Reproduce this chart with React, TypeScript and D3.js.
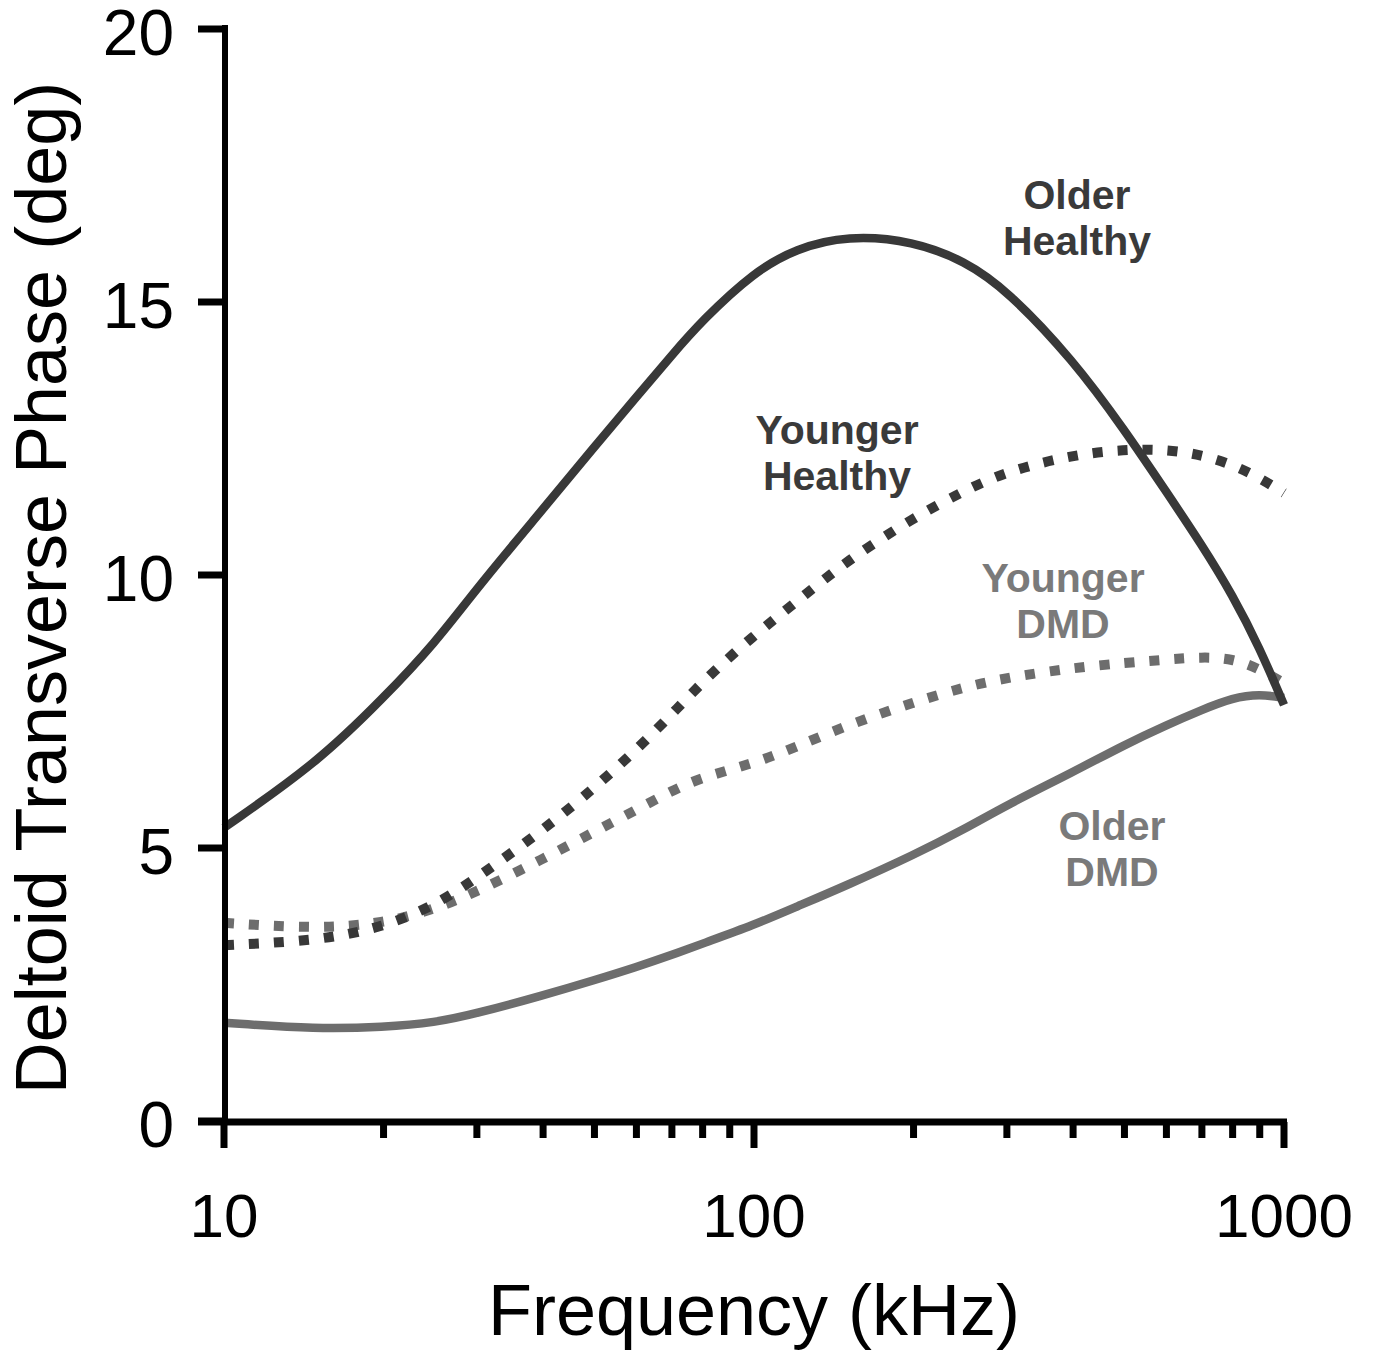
import React from "react";
import * as d3 from "d3";

const freqs = [10, 15, 20, 25, 30, 40, 50, 60, 70, 80, 100, 120, 150, 200, 250, 300, 400, 500, 600, 700, 800, 900, 1000];
const olderHealthy = [5.37, 6.56, 7.75, 8.75, 9.76, 11.21, 12.35, 13.26, 14.03, 14.67, 15.55, 15.98, 16.22, 16.12, 15.75, 15.22, 13.94, 12.66, 11.52, 10.55, 9.63, 8.66, 7.62];
const youngerHealthy = [3.22, 3.3, 3.55, 3.95, 4.45, 5.33, 6.1, 6.8, 7.45, 8.05, 8.9, 9.5, 10.27, 11.05, 11.55, 11.9, 12.2, 12.3, 12.3, 12.2, 12.02, 11.78, 11.5];
const youngerDMD = [3.63, 3.52, 3.62, 3.88, 4.2, 4.8, 5.3, 5.7, 6.05, 6.3, 6.55, 6.85, 7.25, 7.67, 7.95, 8.12, 8.3, 8.39, 8.45, 8.5, 8.47, 8.28, 8.02];
const olderDMD = [1.8, 1.68, 1.72, 1.8, 1.97, 2.3, 2.58, 2.82, 3.04, 3.25, 3.59, 3.92, 4.32, 4.87, 5.35, 5.79, 6.39, 6.89, 7.25, 7.53, 7.75, 7.82, 7.75];

const yTicks = [0, 5, 10, 15, 20];
const xMajor = [10, 100, 1000];
const xMinor = [20, 30, 40, 50, 60, 70, 80, 90, 200, 300, 400, 500, 600, 700, 800, 900];

const DARK = "#383838";
const GRAY = "#6d6d6d";
const FONT = "'Liberation Sans', Arial, Helvetica, sans-serif";

export default function App() {
  const x = d3.scaleLog().domain([10, 1000]).range([224, 1284]);
  const y = d3.scaleLinear().domain([0, 20]).range([1121, 29]);
  const line = d3
    .line<[number, number]>()
    .x((d) => x(d[0]))
    .y((d) => y(d[1]))
    .curve(d3.curveBasis);
  const mk = (vals: number[]) => line(freqs.map((f, i) => [f, vals[i]] as [number, number])) || "";

  const series = [
    { vals: olderDMD, color: GRAY, dash: null },
    { vals: youngerDMD, color: GRAY, dash: "10 15" },
    { vals: youngerHealthy, color: DARK, dash: "10 15" },
    { vals: olderHealthy, color: DARK, dash: null },
  ];

  const labels = [
    { lines: ["Older", "Healthy"], cx: 1077, y0: 209, color: "#3a3a3a" },
    { lines: ["Younger", "Healthy"], cx: 837, y0: 444, color: "#3a3a3a" },
    { lines: ["Younger", "DMD"], cx: 1063, y0: 592, color: "#7a7a7a" },
    { lines: ["Older", "DMD"], cx: 1112, y0: 840, color: "#7a7a7a" },
  ];

  return (
    <svg
      width={1374}
      height={1351}
      style={{ position: "absolute", left: 0, top: 0, background: "#fff" }}
      fontFamily={FONT}
    >
      <rect x={0} y={0} width={1374} height={1351} fill="#fff" />
      {series.map((s, i) => (
        <path
          key={i}
          d={mk(s.vals)}
          fill="none"
          stroke={s.color}
          strokeWidth={s.dash ? 10 : 8.5}
          strokeDasharray={s.dash || undefined}
          strokeLinecap="butt"
          strokeLinejoin="round"
        />
      ))}
      {/* axes */}
      <line x1={225} x2={225} y1={25} y2={1125} stroke="#000" strokeWidth={6} />
      <line x1={198} x2={1287} y1={1122} y2={1122} stroke="#000" strokeWidth={7} />
      {yTicks.map((t) => (
        <g key={"y" + t}>
          <line x1={198} x2={225} y1={y(t)} y2={y(t)} stroke="#000" strokeWidth={7} />
          <text x={174} y={y(t)} dy="0.41em" textAnchor="end" fontSize={64} fill="#000">
            {t}
          </text>
        </g>
      ))}
      {xMajor.map((t) => (
        <g key={"xM" + t}>
          <line x1={x(t)} x2={x(t)} y1={1122} y2={1148} stroke="#000" strokeWidth={7} />
          <text x={x(t)} y={1237} textAnchor="middle" fontSize={62} fill="#000">
            {t}
          </text>
        </g>
      ))}
      {xMinor.map((t) => (
        <line key={"xm" + t} x1={x(t)} x2={x(t)} y1={1122} y2={1138} stroke="#000" strokeWidth={7} />
      ))}
      <text x={754} y={1335} textAnchor="middle" fontSize={72} fill="#000">
        Frequency (kHz)
      </text>
      <text
        transform="translate(66,588) rotate(-90)"
        textAnchor="middle"
        fontSize={72}
        fill="#000"
      >
        Deltoid Transverse Phase (deg)
      </text>
      {labels.map((l, i) => (
        <text key={i} textAnchor="middle" fontSize={41} fontWeight="bold" fill={l.color}>
          {l.lines.map((t, j) => (
            <tspan key={j} x={l.cx} y={l.y0 + j * 46}>
              {t}
            </tspan>
          ))}
        </text>
      ))}
    </svg>
  );
}
